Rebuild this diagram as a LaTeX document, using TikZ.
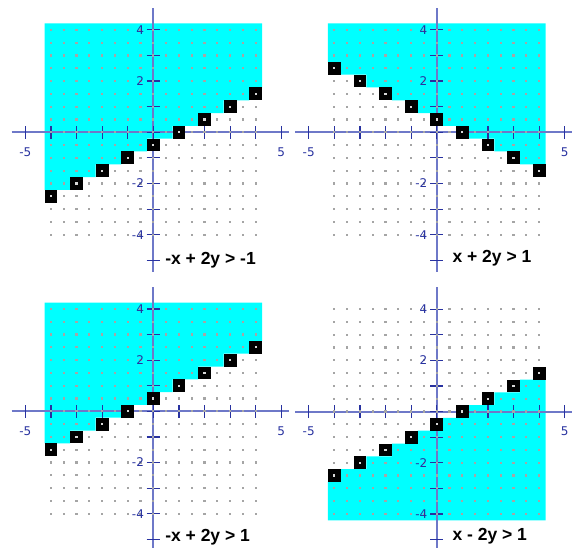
\documentclass[tikz,border=0pt]{standalone}
\usepackage{fontspec}
\setmainfont{Liberation Sans}
\newfontfamily\tickfont{DejaVu Sans}
\definecolor{cyanfill}{RGB}{0,255,255}
\definecolor{axiscol}{RGB}{110,120,200}
\definecolor{tickcol}{RGB}{40,50,160}
\definecolor{labcol}{RGB}{40,50,160}
\definecolor{dotcol}{RGB}{165,165,165}
\definecolor{centdot}{RGB}{215,215,215}
\tikzset{
  region/.style={fill=cyanfill},
  axisline/.style={draw=axiscol, line width=2pt},
  tickline/.style={draw=tickcol, line width=1.2pt},
  ticklab/.style={font=\tickfont\fontsize{12}{12}\selectfont, text=labcol, inner sep=0pt},
  ineqlab/.style={font=\bfseries\fontsize{17.5}{18}\selectfont, anchor=base west, inner sep=0pt},
  griddot/.style={fill=dotcol},
  bpoint/.style={fill=black},
  bcenter/.style={fill=centdot},
}
% #1 name, #2 shift, #3 region path, #4 y(k) expression, #5 label text, #6 label position
\newcommand\drawpanel[6]{%
  \begin{scope}[shift={#2}, x=25.6pt, y=25.6pt]
    \fill[region] #3;
    \draw[axisline] (-5.53,0) -- (5.3,0);
    \draw[axisline] (0,-5.45) -- (0,4.85);
    \foreach \i in {-5,...,5} \draw[tickline] (\i,-0.26) -- (\i,0.26);
    \foreach \j in {-5,...,4} \draw[tickline] (-0.26,\j) -- (0.26,\j);
    \foreach \i in {-8,...,8} {
      \foreach \j in {-8,...,8} {
        \fill[griddot] ({\i/2-0.04},{\j/2-0.04}) rectangle ++(0.08,0.08);
      }
    }
    \foreach \k in {-4,...,4} {
      \pgfmathsetmacro\yy{#4}
      \fill[bpoint] ({\k-0.25},{\yy-0.25}) rectangle ++(0.5,0.5);
      \fill[bcenter] ({\k-0.04},{\yy-0.04}) rectangle ++(0.08,0.08);
    }
    \node[ticklab, anchor=east] (#1y4) at (-0.36,4) {4};
    \node[ticklab, anchor=east] (#1y2) at (-0.36,2) {2};
    \node[ticklab, anchor=east] (#1ym2) at (-0.36,-2) {-2};
    \node[ticklab, anchor=east] (#1ym4) at (-0.36,-4) {-4};
    \node[ticklab] (#1xm5) at (-5,-0.76) {-5};
    \node[ticklab] (#1x5) at (5,-0.76) {5};
    \node[ineqlab] (#1ineq) at #6 {#5};
  \end{scope}}
\begin{document}
\begin{tikzpicture}
  \useasboundingbox (0,0) rectangle (575pt,-548pt);
  \fill[white] (0,0) rectangle (575pt,-548pt);
  \drawpanel{a}{(153.3pt,-132.3pt)}%
    {(-4.25,4.25) -- (-4.25,-2.25) -- (-3.25,-2.25) -- (-3.25,-1.75) -- (-2.25,-1.75) -- (-2.25,-1.25) -- (-1.25,-1.25) -- (-1.25,-0.75) -- (-0.25,-0.75) -- (-0.25,-0.25) -- (0.75,-0.25) -- (0.75,0.25) -- (1.75,0.25) -- (1.75,0.75) -- (2.75,0.75) -- (2.75,1.25) -- (3.75,1.25) -- (3.75,1.75) -- (4.25,1.75) -- (4.25,4.25) -- cycle}%
    {(\k-1)/2}{-x + 2y > -1}{(0.46,-5.18)}
  \drawpanel{b}{(436.7pt,-132.3pt)}%
    {(-4.25,4.25) -- (-4.25,2.75) -- (-3.75,2.75) -- (-3.75,2.25) -- (-2.75,2.25) -- (-2.75,1.75) -- (-1.75,1.75) -- (-1.75,1.25) -- (-0.75,1.25) -- (-0.75,0.75) -- (0.25,0.75) -- (0.25,0.25) -- (1.25,0.25) -- (1.25,-0.25) -- (2.25,-0.25) -- (2.25,-0.75) -- (3.25,-0.75) -- (3.25,-1.25) -- (4.25,-1.25) -- (4.25,4.25) -- cycle}%
    {(1-\k)/2}{x + 2y > 1}{(0.61,-5.1)}
  \drawpanel{c}{(153.3pt,-411.3pt)}%
    {(-4.25,4.25) -- (-4.25,-1.25) -- (-3.25,-1.25) -- (-3.25,-0.75) -- (-2.25,-0.75) -- (-2.25,-0.25) -- (-1.25,-0.25) -- (-1.25,0.25) -- (-0.25,0.25) -- (-0.25,0.75) -- (0.75,0.75) -- (0.75,1.25) -- (1.75,1.25) -- (1.75,1.75) -- (2.75,1.75) -- (2.75,2.25) -- (3.75,2.25) -- (3.75,2.75) -- (4.25,2.75) -- (4.25,4.25) -- cycle}%
    {(1+\k)/2}{-x + 2y > 1}{(0.46,-5.09)}
  \drawpanel{d}{(436.7pt,-411.5pt)}%
    {(-4.25,-4.25) -- (-4.25,-2.75) -- (-3.75,-2.75) -- (-3.75,-2.25) -- (-2.75,-2.25) -- (-2.75,-1.75) -- (-1.75,-1.75) -- (-1.75,-1.25) -- (-0.75,-1.25) -- (-0.75,-0.75) -- (0.25,-0.75) -- (0.25,-0.25) -- (1.25,-0.25) -- (1.25,0.25) -- (2.25,0.25) -- (2.25,0.75) -- (3.25,0.75) -- (3.25,1.25) -- (4.25,1.25) -- (4.25,-4.25) -- cycle}%
    {(\k-1)/2}{x - 2y > 1}{(0.61,-5.02)}
\end{tikzpicture}
\end{document}
